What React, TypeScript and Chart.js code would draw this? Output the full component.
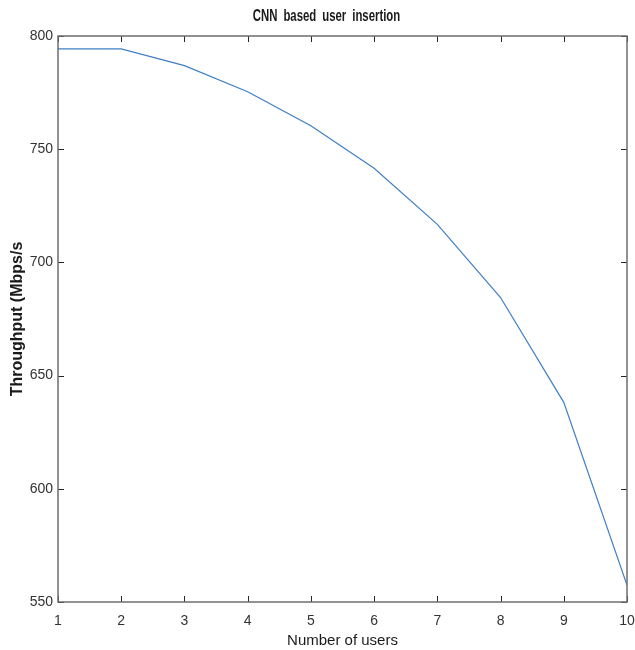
import React, { useEffect, useRef } from "react";
import { Chart, registerables } from "chart.js";

Chart.register(...registerables);

const chartTitle = "CNN based user insertion";
const users = [1, 2, 3, 4, 5, 6, 7, 8, 9, 10];
const throughput = [794.3, 794.3, 786.9, 775.4, 760.4, 741.6, 716.8, 684.5, 638.2, 557.5];
const yTicks = [550, 600, 650, 700, 750, 800];

const TICK_FONT = "'Liberation Sans', Arial, sans-serif";

const boxPlugin = {
  id: "matlabBox",
  afterDatasetsDraw(chart: any) {
    const { ctx, chartArea: a, scales } = chart;
    const len = 6;
    ctx.save();
    ctx.strokeStyle = "#262626";
    ctx.lineWidth = 1;
    ctx.beginPath();
    scales.x.ticks.forEach((t: any) => {
      const px = Math.round(scales.x.getPixelForValue(t.value)) + 0.5;
      ctx.moveTo(px, a.bottom);
      ctx.lineTo(px, a.bottom - len);
      ctx.moveTo(px, a.top);
      ctx.lineTo(px, a.top + len);
    });
    scales.y.ticks.forEach((t: any) => {
      const py = Math.round(scales.y.getPixelForValue(t.value)) + 0.5;
      ctx.moveTo(a.left, py);
      ctx.lineTo(a.left + len, py);
      ctx.moveTo(a.right, py);
      ctx.lineTo(a.right - len, py);
    });
    ctx.stroke();
    ctx.strokeStyle = "#6e6e6e";
    ctx.lineWidth = 1.5;
    ctx.strokeRect(a.left, a.top, a.right - a.left, a.bottom - a.top);
    ctx.restore();
  },
  afterDraw(chart: any) {
    const { ctx, chartArea: a } = chart;
    ctx.save();
    const cx = (a.left + a.right) / 2 - 16;
    ctx.translate(cx, 17);
    ctx.scale(0.71, 1);
    ctx.font = `bold 16px ${TICK_FONT}`;
    ctx.fillStyle = "#1a1a1a";
    ctx.textAlign = "center";
    ctx.textBaseline = "middle";
    (ctx as any).wordSpacing = "4px";
    ctx.fillText(chartTitle, 0, 0);
    ctx.restore();
  },
};

export default function App() {
  const ref = useRef<HTMLCanvasElement | null>(null);
  useEffect(() => {
    document.body.style.margin = "0";
    const chart = new Chart(ref.current as HTMLCanvasElement, {
      type: "line",
      data: {
        datasets: [
          {
            data: users.map((u, i) => ({ x: u, y: throughput[i] })),
            borderColor: "#3f7fc4",
            borderWidth: 1.2,
            pointRadius: 0,
            fill: false,
            tension: 0,
          },
        ],
      },
      options: {
        animation: false,
        responsive: false,
        maintainAspectRatio: false,
        layout: { padding: { top: 36, right: 8, left: 0, bottom: 0 } },
        plugins: {
          legend: { display: false },
          tooltip: { enabled: false },
          title: { display: false },
        },
        scales: {
          x: {
            type: "linear",
            min: 1,
            max: 10,
            afterFit: (s: any) => {
              s.height = 48;
              s.paddingLeft = 0;
              s.paddingRight = 0;
            },
            afterBuildTicks: (s: any) => {
              s.ticks = users.map((v) => ({ value: v }));
            },
            grid: { display: false, drawTicks: false },
            border: { display: false },
            ticks: {
              padding: 11,
              color: "#333",
              font: { family: TICK_FONT, size: 14 },
              callback: (v: any) => String(v),
            },
            title: {
              display: true,
              text: "Number of users",
              color: "#1a1a1a",
              font: { family: TICK_FONT, size: 15 },
              padding: { top: 0, bottom: 0 },
            },
          },
          y: {
            type: "linear",
            min: 550,
            max: 800,
            afterFit: (s: any) => {
              s.width = 58;
              s.paddingTop = 0;
              s.paddingBottom = 0;
            },
            afterBuildTicks: (s: any) => {
              s.ticks = yTicks.map((v) => ({ value: v }));
            },
            grid: { display: false, drawTicks: false },
            border: { display: false },
            ticks: {
              padding: 5,
              color: "#333",
              font: { family: TICK_FONT, size: 14 },
              callback: (v: any) => String(v),
            },
            title: {
              display: true,
              text: "Throughput (Mbps/s",
              color: "#1a1a1a",
              font: { family: TICK_FONT, size: 16, weight: "bold" },
              padding: { top: 8, bottom: 0 },
            },
          },
        },
      },
      plugins: [boxPlugin],
    });
    return () => chart.destroy();
  }, []);
  return (
    <div style={{ width: 635, height: 650, background: "#fff" }}>
      <canvas ref={ref} width={635} height={650} style={{ width: 635, height: 650, display: "block" }} />
    </div>
  );
}
